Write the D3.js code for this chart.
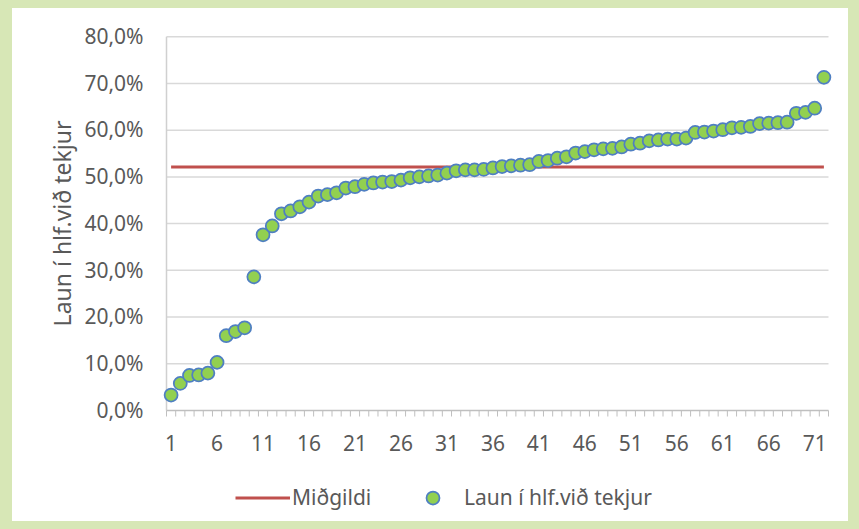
<!DOCTYPE html>
<html>
<head>
<meta charset="utf-8">
<script src="https://cdn.jsdelivr.net/npm/d3@7"></script>
<style>
body { margin: 0; background: #d7e7b6; }
text { font-family: "Noto Sans", sans-serif; fill: #595959; }
</style>
</head>
<body>
<script>
//Values (share of wage in income, sorted)
var values = [
    0.033, 0.058, 0.075, 0.076, 0.080, 0.103, 0.160, 0.169, 0.177, 0.286,
    0.376, 0.395, 0.421, 0.427, 0.436, 0.446, 0.459, 0.462, 0.466, 0.476,
    0.479, 0.484, 0.487, 0.489, 0.490, 0.493, 0.498, 0.500, 0.502, 0.504,
    0.508, 0.513, 0.515, 0.515, 0.516, 0.519, 0.522, 0.5235, 0.525, 0.526,
    0.533, 0.535, 0.540, 0.543, 0.551, 0.554, 0.558, 0.560, 0.561, 0.564,
    0.570, 0.572, 0.577, 0.579, 0.581, 0.581, 0.583, 0.595, 0.596, 0.598,
    0.601, 0.605, 0.606, 0.608, 0.614, 0.615, 0.616, 0.617, 0.636, 0.638,
    0.647, 0.713
];
var median = 0.521;

var categories = values.map((d, i) => i + 1);
var xTickLabels = [1, 6, 11, 16, 21, 26, 31, 36, 41, 46, 51, 56, 61, 66, 71];
var yTicks = [0, 0.1, 0.2, 0.3, 0.4, 0.5, 0.6, 0.7, 0.8];
var seriesNames = ["Miðgildi", "Laun í hlf.við tekjur"];
var yTitle = "Laun í hlf.við tekjur";

//Width and height
var w = 859;
var h = 529;

var svg = d3.select("body")
            .append("svg")
            .attr("width", w)
            .attr("height", h);

//Green frame and white chart area
svg.append("rect")
   .attr("width", w)
   .attr("height", h)
   .attr("fill", "#d7e7b6");
svg.append("rect")
   .attr("x", 12)
   .attr("y", 8)
   .attr("width", 836)
   .attr("height", 513)
   .attr("fill", "#ffffff");

//Scales
var x = d3.scaleBand()
          .domain(categories)
          .range([166.5, 828.5]);
var bw = x.bandwidth();
var cx = (c) => x(c) + bw / 2;

var y = d3.scaleLinear()
          .domain([0, 0.8])
          .range([410.5, 36.7]);

var locale = d3.formatLocale({ decimal: ",", thousands: ".", grouping: [3], currency: ["", " kr."] });
var pct = locale.format(".1%");

//Gridlines
svg.append("g")
   .selectAll("line")
   .data(yTicks.filter((d) => d > 0))
   .enter()
   .append("line")
   .attr("x1", x.range()[0])
   .attr("x2", x.range()[1])
   .attr("y1", (d) => y(d))
   .attr("y2", (d) => y(d))
   .attr("stroke", "#d9d9d9")
   .attr("stroke-width", 1.5);

//Vertical axis line
svg.append("line")
   .attr("x1", x.range()[0])
   .attr("x2", x.range()[0])
   .attr("y1", y(0.8))
   .attr("y2", y(0))
   .attr("stroke", "#d0d0d0")
   .attr("stroke-width", 1.5);

//Y axis labels
var yAxis = svg.append("g")
   .attr("transform", "translate(" + x.range()[0] + ",0)")
   .call(d3.axisLeft(y).tickValues(yTicks).tickSize(0).tickPadding(23).tickFormat(pct));
yAxis.select(".domain").remove();
yAxis.selectAll("text")
     .attr("font-size", "21px")
     .style("font-family", "'Noto Sans', sans-serif")
     .style("fill", "#595959");

//X axis line and tick marks between categories
var boundaries = categories.map((c) => x(c)).concat([x.range()[1]]);
svg.append("line")
   .attr("x1", x.range()[0])
   .attr("x2", x.range()[1])
   .attr("y1", y(0))
   .attr("y2", y(0))
   .attr("stroke", "#bfbfbf")
   .attr("stroke-width", 1.5);
svg.append("g")
   .selectAll("line")
   .data(boundaries)
   .enter()
   .append("line")
   .attr("x1", (d) => d)
   .attr("x2", (d) => d)
   .attr("y1", y(0))
   .attr("y2", y(0) + 6)
   .attr("stroke", "#bfbfbf")
   .attr("stroke-width", 1);

//X axis labels
var xAxis = svg.append("g")
   .attr("transform", "translate(0," + y(0) + ")")
   .call(d3.axisBottom(x).tickValues(xTickLabels).tickSize(0).tickPadding(26));
xAxis.select(".domain").remove();
xAxis.selectAll("text")
     .attr("font-size", "21px")
     .style("font-family", "'Noto Sans', sans-serif")
     .style("fill", "#595959");

//Median line
svg.append("path")
   .datum(categories)
   .attr("d", d3.line().x((c) => cx(c)).y(() => y(median)))
   .attr("fill", "none")
   .attr("stroke", "#c0504d")
   .attr("stroke-width", 3);

//Markers
svg.append("g")
   .selectAll("circle")
   .data(values)
   .enter()
   .append("circle")
   .attr("cx", (d, i) => cx(categories[i]))
   .attr("cy", (d) => y(d))
   .attr("r", 6.5)
   .attr("fill", "#92d050")
   .attr("stroke", "#4f7fc2")
   .attr("stroke-width", 1.75);

//Y axis title
svg.append("text")
   .attr("transform", "translate(71,223.5) rotate(-90)")
   .attr("text-anchor", "middle")
   .attr("font-size", "23px")
   .text(yTitle);

//Legend
var ly = 498;
svg.append("line")
   .attr("x1", 235.5)
   .attr("x2", 290)
   .attr("y1", ly)
   .attr("y2", ly)
   .attr("stroke", "#c0504d")
   .attr("stroke-width", 3);
svg.append("text")
   .attr("x", 292)
   .attr("y", ly)
   .attr("dy", "0.35em")
   .attr("font-size", "21px")
   .text(seriesNames[0]);
svg.append("circle")
   .attr("cx", 433)
   .attr("cy", ly)
   .attr("r", 6.5)
   .attr("fill", "#92d050")
   .attr("stroke", "#4f7fc2")
   .attr("stroke-width", 1.75);
svg.append("text")
   .attr("x", 464)
   .attr("y", ly)
   .attr("dy", "0.35em")
   .attr("font-size", "21px")
   .text(seriesNames[1]);
</script>
</body>
</html>
